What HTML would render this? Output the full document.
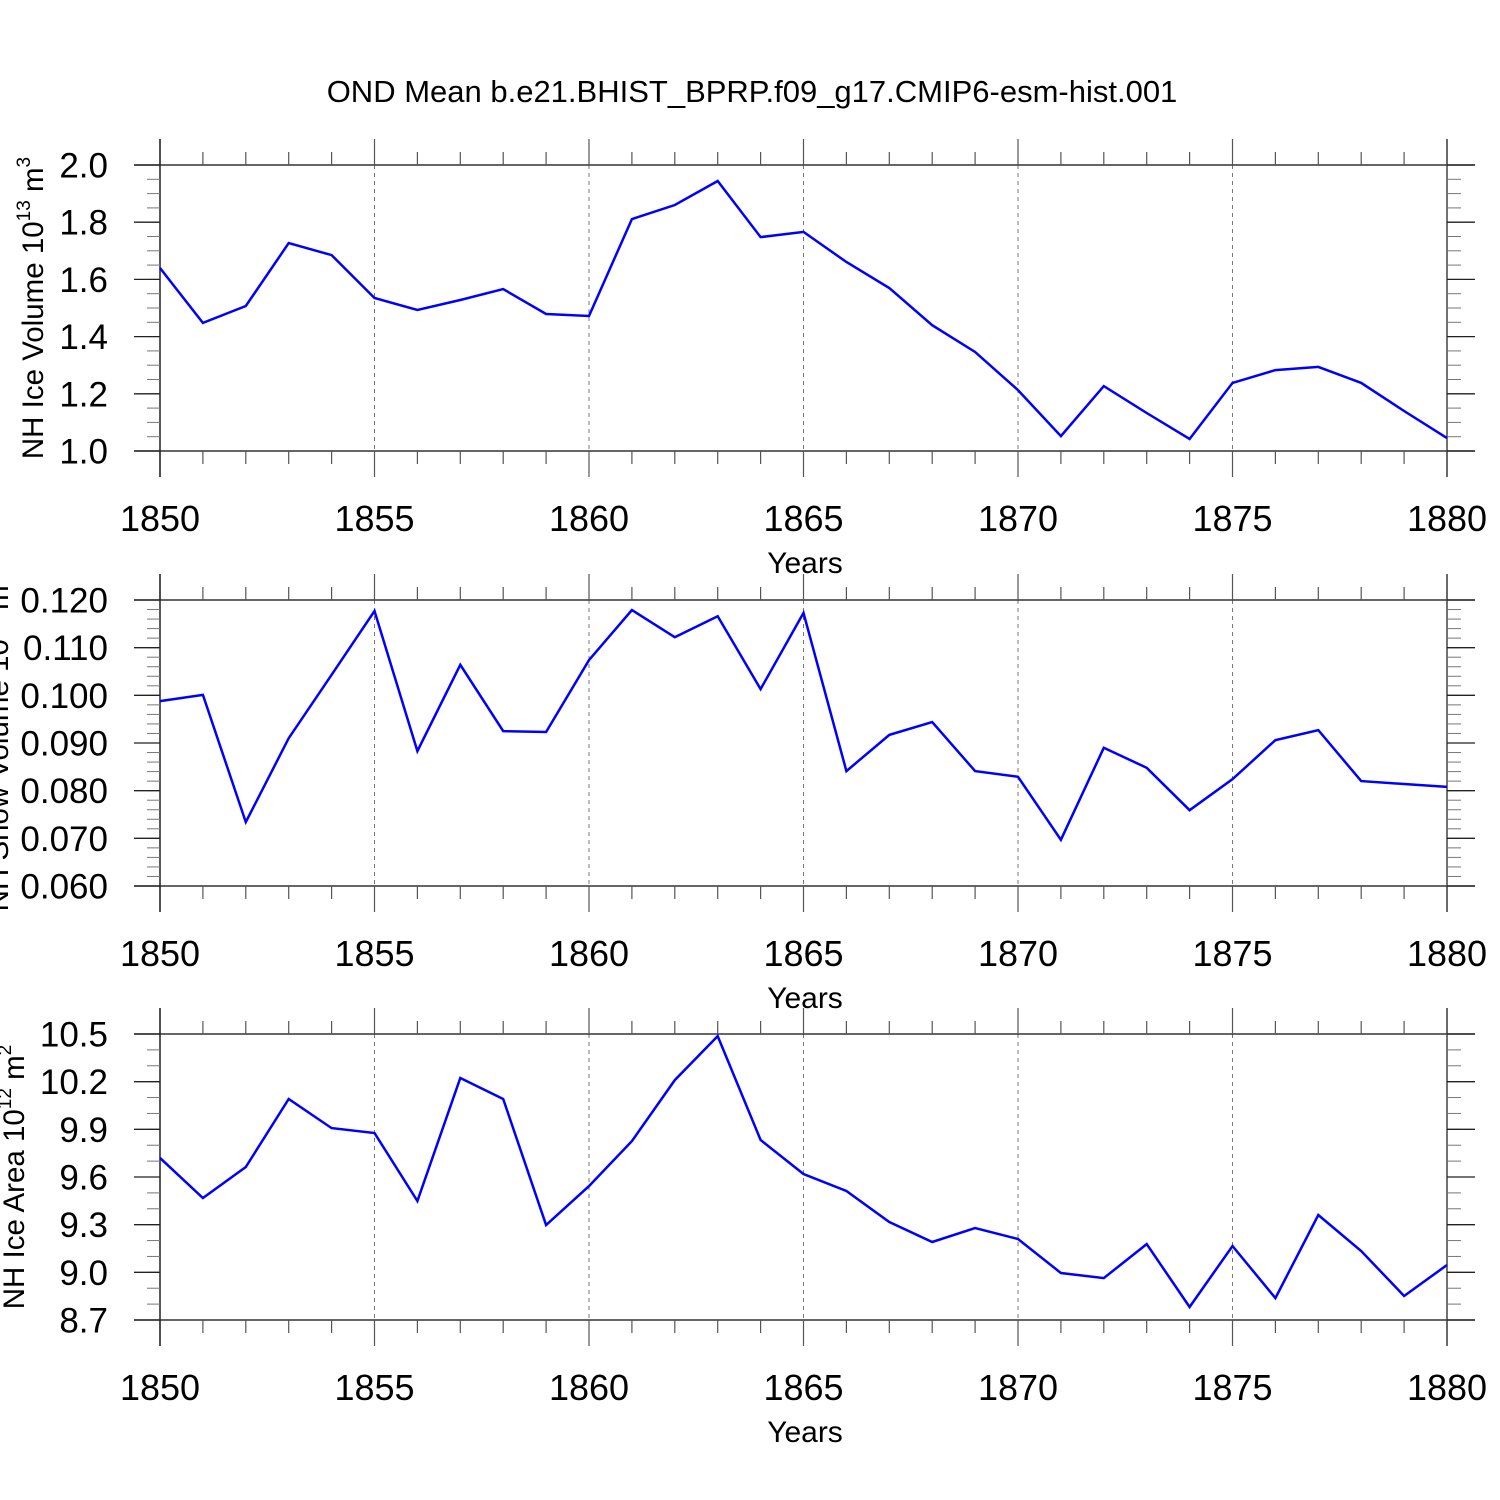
<!DOCTYPE html>
<html><head><meta charset="utf-8"><style>
html,body{margin:0;padding:0;background:#fff;}
svg{display:block;font-family:"Liberation Sans",Arial,sans-serif;}
</style></head><body>
<svg id="c" width="1500" height="1500" viewBox="0 0 1500 1500">
<text x="752" y="102" font-size="31" text-anchor="middle">OND Mean b.e21.BHIST_BPRP.f09_g17.CMIP6-esm-hist.001</text>
</svg>
<script>
const years=[];for(let y=1850;y<=1880;y++)years.push(y);
const iceVolume=[1.64,1.448,1.507,1.727,1.685,1.535,1.493,1.528,1.566,1.479,1.472,1.811,1.86,1.944,1.748,1.766,1.661,1.570,1.44,1.346,1.213,1.052,1.227,1.133,1.042,1.238,1.283,1.294,1.238,1.14,1.045];
const snowVolume=[0.0988,0.1001,0.0734,0.0910,0.1043,0.1177,0.0883,0.1064,0.0925,0.0923,0.1074,0.1179,0.1122,0.1166,0.1013,0.1173,0.0841,0.0917,0.0944,0.0841,0.0829,0.0697,0.0890,0.0848,0.0759,0.0824,0.0906,0.0927,0.0820,0.0814,0.0808];
const iceArea=[9.72,9.468,9.663,10.091,9.908,9.877,9.449,10.223,10.091,9.298,9.543,9.826,10.210,10.487,9.833,9.619,9.512,9.317,9.191,9.279,9.21,8.996,8.964,9.178,8.782,9.166,8.838,9.361,9.134,8.851,9.046];
const xTickLabels=["1850","1855","1860","1865","1870","1875","1880"];
const iceVolumeTicks=["1.0","1.2","1.4","1.6","1.8","2.0"];
const snowVolumeTicks=["0.060","0.070","0.080","0.090","0.100","0.110","0.120"];
const iceAreaTicks=["8.7","9.0","9.3","9.6","9.9","10.2","10.5"];

const svg=document.getElementById('c');
const NS='http://www.w3.org/2000/svg';
const X0=160,X1=1447,XMIN=1850,XMAX=1880;
const xs=v=>X0+(v-XMIN)/(XMAX-XMIN)*(X1-X0);
function mk(tag,attrs,parent){const e=document.createElementNS(NS,tag);for(const k in attrs)e.setAttribute(k,attrs[k]);(parent||svg).appendChild(e);return e;}

function panel(name,top,bot,ticks,minorStep,data,label,sup1,sup2,labelX){
  const g=mk('g',{});
  
  
  const ymin=parseFloat(ticks[0]),ymax=parseFloat(ticks[ticks.length-1]);
  const ys=v=>bot-(v-ymin)/(ymax-ymin)*(bot-top);
  for(let i=1;i<xTickLabels.length-1;i++){
    const x=xs(parseFloat(xTickLabels[i]));
    const l=mk('line',{x1:x,x2:x,y1:top,y2:bot,stroke:'#777','stroke-width':1,'stroke-dasharray':'4,4'},g);
    
    
  }
  mk('line',{x1:134,x2:1475,y1:top,y2:top,stroke:'#333','stroke-width':1.5},g);
  mk('line',{x1:134,x2:1475,y1:bot,y2:bot,stroke:'#333','stroke-width':1.5},g);
  for(const yr of years){
    const x=xs(yr);const major=(yr%5===0);const len=major?26:13;
    mk('line',{x1:x,x2:x,y1:top-len,y2:top,stroke:'#555','stroke-width':1.2},g);
    mk('line',{x1:x,x2:x,y1:bot,y2:bot+len,stroke:'#555','stroke-width':1.2},g);
  }
  mk('line',{x1:X0,x2:X0,y1:top-26,y2:bot+26,stroke:'#222','stroke-width':1.5},g);
  mk('line',{x1:X1,x2:X1,y1:top-26,y2:bot+26,stroke:'#444','stroke-width':1.5},g);
  const nMin=Math.round((ymax-ymin)/minorStep);
  for(let i=1;i<nMin;i++){
    const y=ys(ymin+i*minorStep);
    mk('line',{x1:147,x2:X0,y1:y,y2:y,stroke:'#777','stroke-width':1},g);
    mk('line',{x1:X1,x2:1461,y1:y,y2:y,stroke:'#777','stroke-width':1},g);
  }
  for(const t of ticks){
    const y=ys(parseFloat(t));
    mk('line',{x1:134,x2:X0,y1:y,y2:y,stroke:'#222','stroke-width':1.3},g);
    mk('line',{x1:X1,x2:1475,y1:y,y2:y,stroke:'#222','stroke-width':1.3},g);
    const tx=mk('text',{x:108,y:y+12.5,'font-size':35,'text-anchor':'end'},g);
    tx.textContent=t;
    
    
  }
  for(const t of xTickLabels){
    const tx=mk('text',{x:xs(parseFloat(t)),y:bot+80,'font-size':36,'text-anchor':'middle'},g);
    tx.textContent=t;
    
    
  }
  const yl=mk('text',{x:805,y:bot+122,'font-size':30,'text-anchor':'middle'},g);
  yl.textContent='Years';
  
  
  const cy=(top+bot)/2;
  const t=mk('text',{x:0,y:0,'font-size':29.5,'text-anchor':'middle',transform:`translate(${labelX},${cy}) rotate(-90)`},g);
  
  
  t.appendChild(document.createTextNode(label));
  const s1=document.createElementNS(NS,'tspan');s1.setAttribute('dy','-13');s1.setAttribute('font-size','19');s1.textContent=sup1;t.appendChild(s1);
  const s2=document.createElementNS(NS,'tspan');s2.setAttribute('dy','13');s2.textContent=' m';t.appendChild(s2);
  const s3=document.createElementNS(NS,'tspan');s3.setAttribute('dy','-13');s3.setAttribute('font-size','19');s3.textContent=sup2;t.appendChild(s3);
  const pts=data.map((v,i)=>xs(years[i]).toFixed(1)+','+ys(v).toFixed(1)).join(' ');
  const pl=mk('polyline',{points:pts,fill:'none',stroke:'#0000ff','stroke-width':2.5,'stroke-linejoin':'miter'},g);
  
  
}
panel('ice-volume',165,451,iceVolumeTicks,0.05,iceVolume,'NH Ice Volume 10','13','3',43);
panel('snow-volume',600,886,snowVolumeTicks,0.002,snowVolume,'NH Snow Volume 10','13','3',8);
panel('ice-area',1034,1320,iceAreaTicks,0.1,iceArea,'NH Ice Area 10','12','2',24);
</script>
</body></html>
